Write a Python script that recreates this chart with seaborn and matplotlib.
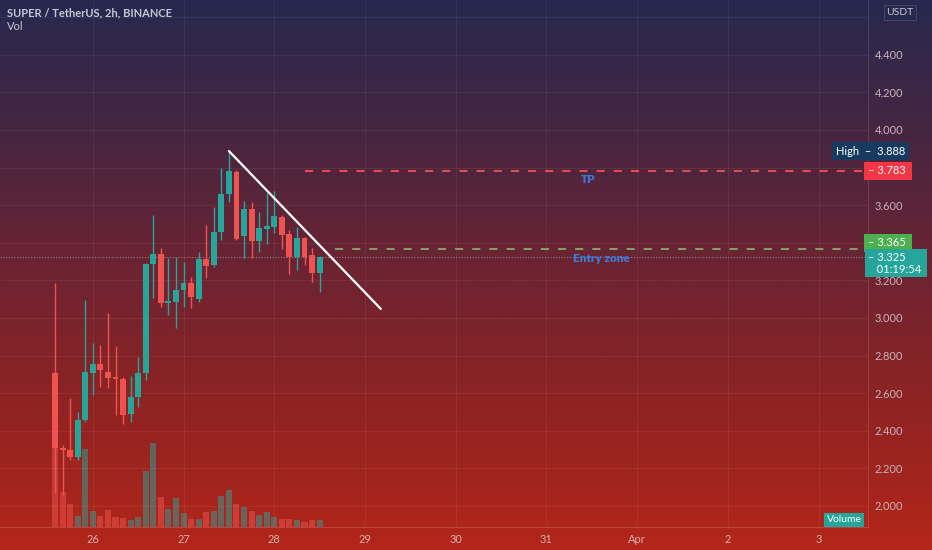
import numpy as np
import pandas as pd
import matplotlib
matplotlib.use("Agg")
import matplotlib.pyplot as plt
from matplotlib.colors import LinearSegmentedColormap
import seaborn as sns

# 2h candles, SUPER/USDT, from 25th 14:00 to 28th 12:00
opens = [2.707, 2.309, 2.298, 2.261, 2.457, 2.707, 2.755, 2.713, 2.686, 2.676,
         2.489, 2.580, 2.707, 3.287, 3.340, 3.080, 3.085, 3.149, 3.186, 3.101,
         3.314, 3.282, 3.457, 3.660, 3.777, 3.436, 3.580, 3.410, 3.473, 3.484,
         3.537, 3.447, 3.324, 3.426, 3.335, 3.239]
highs = [3.186, 2.324, 2.574, 2.500, 3.096, 2.867, 2.856, 3.027, 2.851, 2.686,
         2.691, 2.793, 3.293, 3.548, 3.372, 3.319, 3.324, 3.298, 3.218, 3.351,
         3.495, 3.590, 3.798, 3.888, 3.787, 3.622, 3.617, 3.564, 3.665, 3.676,
         3.548, 3.468, 3.484, 3.431, 3.372, 3.330]
lows = [2.069, 2.059, 2.245, 2.245, 2.447, 2.590, 2.633, 2.628, 2.484, 2.436,
        2.447, 2.527, 2.670, 3.106, 3.059, 3.016, 2.947, 3.059, 3.053, 3.085,
        3.213, 3.271, 3.415, 3.617, 3.415, 3.319, 3.319, 3.351, 3.394, 3.452,
        3.367, 3.234, 3.255, 3.282, 3.191, 3.138]
closes = [2.309, 2.298, 2.261, 2.457, 2.713, 2.755, 2.723, 2.681, 2.676, 2.484,
          2.580, 2.707, 3.287, 3.340, 3.080, 3.090, 3.149, 3.186, 3.112, 3.314,
          3.277, 3.457, 3.660, 3.782, 3.420, 3.580, 3.410, 3.479, 3.489, 3.543,
          3.441, 3.324, 3.426, 3.324, 3.239, 3.325]
volumes = [100, 35, 23, 11, 78, 16, 11, 17, 10, 9, 7, 10, 56, 84, 30, 18, 29, 14,
           8, 8, 15, 16, 31, 37, 23, 20, 16, 12, 15, 10, 8, 8, 7, 5, 7, 7]

date_ticks = [5, 17, 29, 41, 53, 65, 77, 89, 101]
date_labels = ["26", "27", "28", "29", "30", "31", "Apr", "2", "3"]
price_ticks = [2.0, 2.2, 2.4, 2.6, 2.8, 3.0, 3.2, 3.4, 3.6, 3.8, 4.0, 4.2, 4.4, 4.6]
# labels hidden behind the price tags in the original
hidden_ticks = [3.4, 3.8, 4.6]

tp_price = 3.783
entry_price = 3.365
last_price = 3.325
high_price = 3.888
trend_start = (23, 3.888)
trend_end = (43.1, 3.048)

GREEN = "#26a69a"
RED = "#ef5350"

sns.set_theme(style="dark")
plt.rcParams["font.family"] = ["Lato", "DejaVu Sans"]

df = pd.DataFrame({"idx": np.arange(len(opens)), "open": opens, "high": highs,
                   "low": lows, "close": closes, "volume": volumes})
df["dir"] = np.where(df["close"] >= df["open"], "up", "down")

fig = plt.figure(figsize=(9.32, 5.5), dpi=100)

# background gradient
bg = fig.add_axes([0, 0, 1, 1])
cmap = LinearSegmentedColormap.from_list("bg", [
    (0.0, "#28284f"), (0.24, "#462641"), (0.46, "#692334"),
    (0.73, "#8e2323"), (1.0, "#b4261a")])
bg.imshow(np.linspace(0, 1, 256).reshape(-1, 1), aspect="auto", cmap=cmap,
          extent=[0, 1, 0, 1], origin="upper")
bg.axis("off")

rect = [0, 23 / 550, 868 / 932, 527 / 550]
axv = fig.add_axes(rect, facecolor="none")
ax = fig.add_axes(rect, facecolor="none")
ax.set_zorder(3)
axv.set_zorder(2)

# volume
sns.barplot(data=df, x="idx", y="volume", hue="dir", native_scale=True, dodge=False,
            palette={"up": GREEN, "down": RED}, alpha=0.5, saturation=1,
            errorbar=None, legend=False, width=0.8, linewidth=0, ax=axv)
axv.set_xlim(-7.28, 107.54)
axv.set_ylim(0, 527)
axv.axis("off")

# candles
cols = np.where(df["dir"] == "up", GREEN, RED)
ax.vlines(df["idx"], df["low"], df["high"], colors=cols, linewidth=1, zorder=3)
body_lo = np.minimum(df["open"], df["close"])
body_h = np.maximum(np.abs(df["close"] - df["open"]), 0.012)
ax.bar(df["idx"], body_h, bottom=body_lo, width=0.78, color=cols, linewidth=0, zorder=4)

ax.set_xlim(-7.28, 107.54)
ax.set_ylim(1.888, 4.6915)

# grid
for p in price_ticks:
    ax.axhline(p, color="white", alpha=0.06, lw=0.8, zorder=0)
for d in date_ticks:
    ax.axvline(d, color="white", alpha=0.06, lw=0.8, zorder=0)

# drawings
ax.plot([trend_start[0], trend_end[0]], [trend_start[1], trend_end[1]],
        color="white", lw=1.6, zorder=5)
ax.hlines(tp_price, 33, 108, colors="#f0544d", lw=1.3, linestyles=(0, (4.5, 5)), zorder=2)
ax.hlines(entry_price, 37, 108, colors="#86ad5c", lw=1.3, linestyles=(0, (4.5, 5)), zorder=2)
ax.axhline(last_price, color="#b0a8b0", lw=0.8, ls=(0, (1, 1.5)), alpha=0.7, zorder=1)
ax.text(70.5, 3.735, "TP", color="#3a7bd8", fontsize=8.5, fontweight="heavy",
        ha="center", va="center")
ax.text(72.3, 3.318, "Entry zone", color="#3a7bd8", fontsize=8.5, fontweight="heavy",
        ha="center", va="center")

# axes
for s in ["top", "left"]:
    ax.spines[s].set_visible(False)
ax.spines["right"].set_color((1, 1, 1, 0.12))
ax.spines["bottom"].set_color((1, 1, 1, 0.15))
ax.spines["right"].set_linewidth(0.8)
ax.spines["bottom"].set_linewidth(0.8)
ax.yaxis.tick_right()
ax.set_yticks(price_ticks)
ax.set_yticklabels(["" if p in hidden_ticks else f"{p:.3f}" for p in price_ticks])
ax.set_xticks(date_ticks)
ax.set_xticklabels(date_labels)
ax.tick_params(axis="y", length=0, pad=5, labelsize=8, labelcolor="#c9b3bb")
ax.tick_params(axis="x", length=0, pad=5, labelsize=8, labelcolor="#d8b0a8")
ax.grid(False)

# price labels
yt = ax.get_yaxis_transform()
ax.text(0.963, high_price, "High  \u2013  3.888", transform=yt, ha="left", va="center",
        fontsize=8, color="white", clip_on=False, zorder=10,
        bbox=dict(boxstyle="square,pad=0.32", fc="#173a60", ec="none"))
ax.text(1.0, tp_price, "\u2013 3.783 ", transform=yt, ha="left", va="center",
        fontsize=8, color="white", clip_on=False, zorder=10,
        bbox=dict(boxstyle="square,pad=0.32", fc="#f23645", ec="none"))
ax.text(1.0, 3.399, "\u2013 3.365 ", transform=yt, ha="left", va="center",
        fontsize=8, color="white", clip_on=False, zorder=10,
        bbox=dict(boxstyle="square,pad=0.32", fc="#4caf50", ec="none"))
ax.text(1.0, 3.290, "\u2013 3.325\n   01:19:54 ", transform=yt, ha="left", va="center",
        fontsize=8, color="white", clip_on=False, zorder=10, linespacing=1.05,
        bbox=dict(boxstyle="square,pad=0.25", fc="#26a69a", ec="none"))

# header and misc labels
fig.text(7 / 932, 1 - 13 / 550, "SUPER / TetherUS, 2h, BINANCE", fontsize=8,
         fontweight="bold", color="#c8c6d6", va="center")
fig.text(7 / 932, 1 - 27 / 550, "Vol", fontsize=8, color="#c8c6d6", va="center")
fig.text(900 / 932, 1 - 12.5 / 550, "USDT", fontsize=7.5, color="#c8c6d6",
         ha="center", va="center",
         bbox=dict(boxstyle="square,pad=0.25", fc="#27284e", ec="#4a4a6a", lw=0.6))
fig.text(844 / 932, 30 / 550, "Volume", fontsize=7.5, color="white",
         ha="center", va="center",
         bbox=dict(boxstyle="square,pad=0.25", fc="#26a69a", ec="none"))

fig.savefig("out.png", dpi=100)
